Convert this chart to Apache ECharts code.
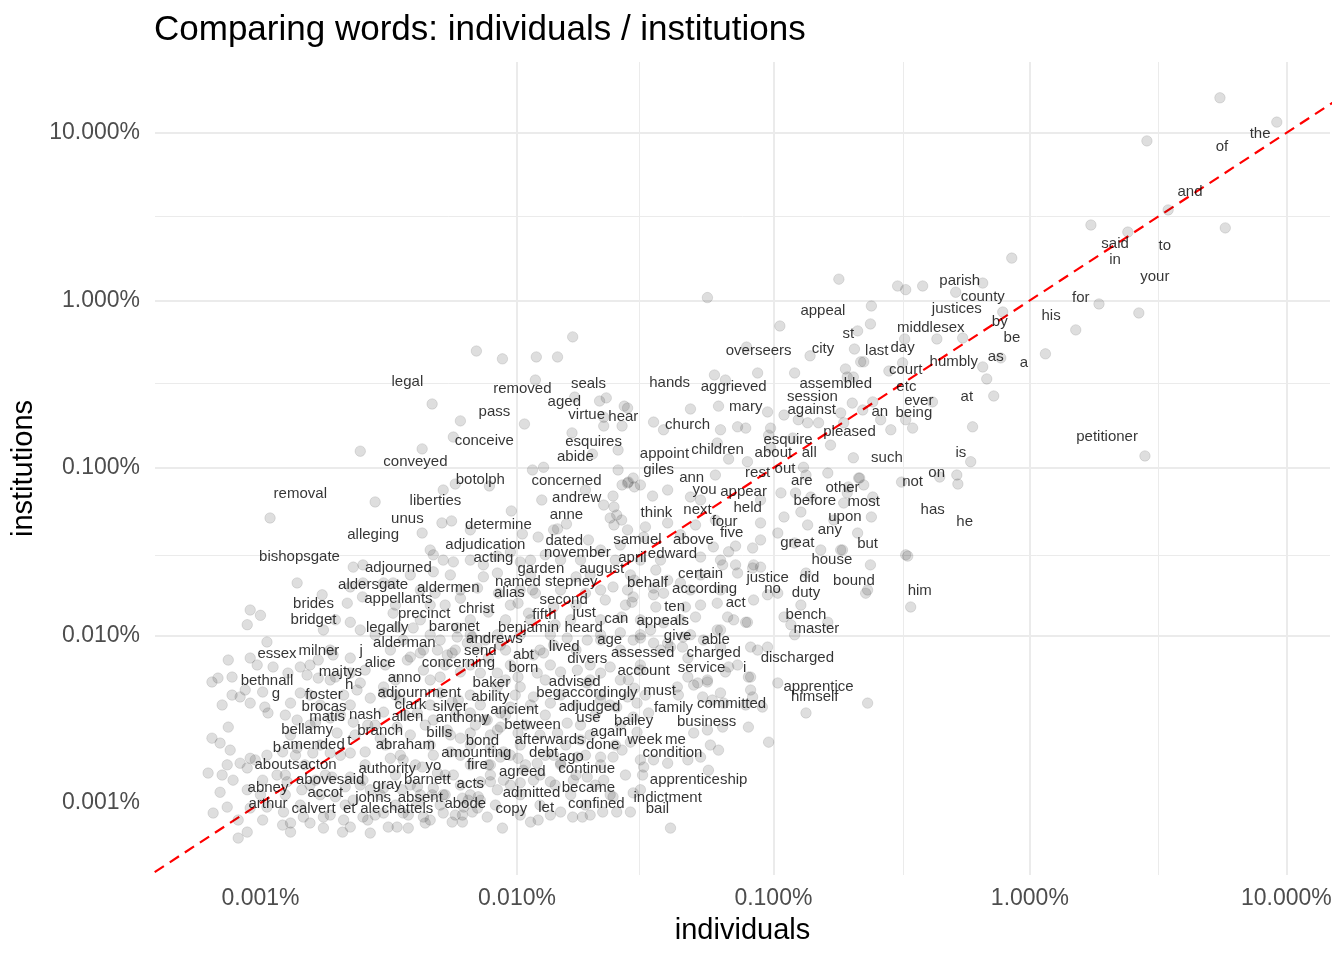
<!DOCTYPE html>
<html>
<head>
<meta charset="utf-8">
<script src="https://cdn.jsdelivr.net/npm/echarts@6/dist/echarts.min.js"></script>
<style>html,body{margin:0;padding:0;background:#fff}#c{width:1344px;height:960px}</style>
</head>
<body>
<div id="c"></div>
<script>
// Axis ranges (percent of words)
const xRange = [0.000388, 14.8];
const yRange = [0.000372, 26.5];
const majorBreaks = [0.001, 0.01, 0.1, 1, 10];
const minorBreaks = [0.000316, 0.00316, 0.0316, 0.316, 3.16, 31.6];
// reference line y = x
const identityLine = [[0.0001, 0.0001], [100, 100]];

// labelled words: [word, individuals %, institutions %]
const wordLabels = [
["the",7.90,11.6],["of",5.61,9.73],["and",4.21,5.24],["said",2.15,2.56],["to",3.36,2.49],["in",2.15,2.06],
["your",3.07,1.63],["for",1.58,1.22],["his",1.21,0.953],["a",0.947,0.500],["parish",0.533,1.54],["county",0.655,1.24],
["justices",0.519,1.05],["by",0.763,0.877],["middlesex",0.411,0.808],["be",0.851,0.704],["day",0.319,0.614],["last",0.253,0.589],
["as",0.736,0.542],["humbly",0.505,0.506],["court",0.328,0.454],["etc",0.330,0.359],["at",0.568,0.313],["ever",0.369,0.296],
["being",0.353,0.251],["an",0.260,0.255],["petitioner",2.00,0.181],["is",0.538,0.145],["on",0.433,0.110],["not",0.349,0.0973],
["has",0.418,0.0662],["he",0.557,0.0561],["him",0.372,0.0217],["appeal",0.156,1.02],["st",0.196,0.744],["city",0.156,0.605],
["overseers",0.0876,0.589],["assembled",0.175,0.374],["session",0.142,0.313],["against",0.141,0.262],["pleased",0.198,0.193],
["esquire",0.114,0.173],["about",0.100,0.145],["all",0.138,0.145],["such",0.277,0.135],["rest",0.0868,0.110],["out",0.111,0.116],
["are",0.129,0.0986],["other",0.186,0.0896],["before",0.145,0.0749],["most",0.225,0.0739],["upon",0.190,0.0601],["any",0.166,0.0503],
["great",0.124,0.0421],["but",0.233,0.0415],["house",0.169,0.0333],["justice",0.0950,0.0260],["did",0.138,0.0260],["bound",0.206,0.0249],
["no",0.0993,0.0224],["duty",0.134,0.0212],["bench",0.134,0.0156],["master",0.147,0.0129],["discharged",0.124,0.00865],
["apprentice",0.150,0.00581],["himself",0.145,0.00506],["hands",0.0394,0.379],["aggrieved",0.0700,0.359],["mary",0.0780,0.273],
["church",0.0463,0.213],["children",0.0606,0.151],["appoint",0.0376,0.143],["giles",0.0357,0.115],["ann",0.0480,0.103],
["you",0.0539,0.0871],["appear",0.0765,0.0848],["think",0.0350,0.0635],["next",0.0506,0.0662],["held",0.0794,0.0680],
["four",0.0645,0.0561],["five",0.0687,0.0483],["samuel",0.0295,0.0438],["above",0.0488,0.0438],["april",0.0282,0.0342],
["edward",0.0404,0.0361],["august",0.0214,0.0294],["certain",0.0520,0.0275],["behalf",0.0323,0.0243],["according",0.0539,0.0224],
["act",0.0713,0.0184],["ten",0.0412,0.0175],["appeals",0.0370,0.0144],["give",0.0423,0.0117],["able",0.0595,0.0111],
["charged",0.0585,0.00927],["service",0.0525,0.00755],["i",0.0773,0.00755],["assessed",0.0309,0.00927],["account",0.0312,0.00724],
["must",0.0360,0.00550],["family",0.0408,0.00435],["committed",0.0687,0.00460],["business",0.0549,0.00359],["week",0.0315,0.00280],
["me",0.0415,0.00280],["condition",0.0404,0.00235],["apprenticeship",0.0511,0.00162],["indictment",0.0387,0.00126],["bail",0.0353,0.00109],
["legal",0.00374,0.385],["removed",0.0105,0.349],["seals",0.0190,0.374],["aged",0.0153,0.292],["pass",0.00817,0.255],
["virtue",0.0187,0.244],["hear",0.0260,0.238],["conceive",0.00746,0.171],["esquires",0.0199,0.169],["abide",0.0169,0.137],
["conveyed",0.00402,0.128],["botolph",0.00720,0.100],["concerned",0.0156,0.0986],["removal",0.00143,0.0825],["liberties",0.00481,0.0749],
["andrew",0.0171,0.0781],["unus",0.00374,0.0585],["anne",0.0156,0.0618],["determine",0.00847,0.0539],["alleging",0.00275,0.0469],
["dated",0.0153,0.0432],["adjudication",0.00753,0.0409],["acting",0.00810,0.0342],["november",0.0172,0.0366],["bishopsgate",0.00142,0.0347],
["adjourned",0.00345,0.0298],["garden",0.0124,0.0294],["aldersgate",0.00275,0.0236],["aldermen",0.00540,0.0227],["named",0.0101,0.0246],
["stepney",0.0163,0.0246],["alias",0.00935,0.0212],["appellants",0.00345,0.0195],["second",0.0152,0.0192],["brides",0.00161,0.0182],
["christ",0.00695,0.0170],["precinct",0.00435,0.0158],["bridget",0.00161,0.0146],["fifth",0.0128,0.0156],["just",0.0183,0.0161],
["can",0.0244,0.0148],["legally",0.00312,0.0131],["baronet",0.00570,0.0133],["benjamin",0.0111,0.0131],["heard",0.0182,0.0131],
["andrews",0.00817,0.0112],["alderman",0.00364,0.0106],["age",0.0230,0.0111],["lived",0.0153,0.0101],["send",0.00720,0.00953],
["essex",0.00116,0.00915],["milner",0.00169,0.00953],["j",0.00247,0.00953],["abt",0.0106,0.00902],["divers",0.0188,0.00853],
["concerning",0.00591,0.00808],["alice",0.00293,0.00808],["born",0.0106,0.00755],["majtys",0.00205,0.00714],["bethnall",0.00106,0.00631],
["anno",0.00364,0.00658],["h",0.00222,0.00597],["baker",0.00795,0.00614],["advised",0.0168,0.00622],["g",0.00115,0.00528],
["foster",0.00177,0.00521],["adjournment",0.00416,0.00535],["ability",0.00788,0.00506],["beg",0.0133,0.00535],["accordingly",0.0210,0.00535],
["brocas",0.00177,0.00441],["clark",0.00384,0.00454],["silver",0.00550,0.00441],["ancient",0.00977,0.00424],["adjudged",0.0192,0.00441],
["matis",0.00182,0.00385],["nash",0.00256,0.00395],["allen",0.00374,0.00385],["anthony",0.00613,0.00379],["between",0.0115,0.00345],
["use",0.0190,0.00379],["bailey",0.0285,0.00364],["bellamy",0.00152,0.00322],["branch",0.00293,0.00317],["bills",0.00498,0.00309],
["again",0.0228,0.00313],["b",0.00116,0.00251],["amended",0.00161,0.00262],["t",0.00222,0.00277],["abraham",0.00367,0.00262],
["bond",0.00733,0.00277],["afterwards",0.0134,0.00280],["done",0.0216,0.00262],["amounting",0.00695,0.00235],["debt",0.0127,0.00235],
["ago",0.0163,0.00222],["abouts",0.00116,0.00199],["acton",0.00168,0.00199],["authority",0.00312,0.00188],["yo",0.00472,0.00196],
["fire",0.00701,0.00199],["agreed",0.0105,0.00181],["continue",0.0187,0.00188],["abovesaid",0.00187,0.00162],["gray",0.00312,0.00151],
["barnett",0.00447,0.00162],["acts",0.00658,0.00153],["abney",0.00107,0.00145],["accot",0.00179,0.00135],["johns",0.00275,0.00126],
["absent",0.00420,0.00126],["abode",0.00629,0.00116],["admitted",0.0114,0.00135],["became",0.0190,0.00145],["arthur",0.00107,0.00116],
["calvert",0.00161,0.00109],["et",0.00222,0.00109],["ale",0.00268,0.00109],["chattels",0.00374,0.00109],["copy",0.00951,0.00109],
["let",0.0130,0.00110],["confined",0.0204,0.00116]
];

// jittered word points [individuals %, institutions %]
const cloudPoints = [
[5.51,16.2],[9.18,11.6],[2.86,8.96],[3.46,3.47],[1.73,2.82],[2.41,2.56],[5.78,2.71],[1.86,0.953],[2.66,0.842],[1.51,0.667],[1.15,0.480],[2.81,0.118],[0.850,1.79],
[0.180,1.34],[0.305,1.22],[0.328,1.16],[0.382,1.22],[0.655,1.27],[0.514,1.12],[0.241,0.927],[0.106,0.704],[0.239,0.724],[0.213,0.658],[0.0553,1.04],[0.207,0.513],[0.139,0.467],[0.325,0.589],[0.434,0.589],[0.547,0.597],[0.784,0.853],[0.655,0.401],[0.770,0.454],[0.679,0.340],[0.723,0.269],[0.225,0.430],[0.219,0.430],[0.191,0.390],[0.205,0.349],[0.282,0.379],[0.319,0.424],[0.0589,0.359],[0.0650,0.335],[0.0868,0.369],[0.0786,0.527],[0.0611,0.234],[0.0949,0.216],[0.110,0.207],[0.125,0.194],[0.136,0.186],[0.150,0.186],[0.203,0.244],[0.244,0.248],[0.287,0.169],[0.349,0.173],[0.417,0.248],[0.598,0.176],[0.0622,0.169],[0.0725,0.176],[0.0780,0.173],[0.0975,0.173],[0.0958,0.157],[0.188,0.186],
[0.0165,0.606],[0.00695,0.499],[0.00878,0.448],[0.0119,0.460],[0.0144,0.460],[0.0118,0.335],[0.0168,0.265],[0.0210,0.251],[0.0270,0.228],[0.00467,0.241],[0.00602,0.191],[0.0107,0.183],[0.00565,0.153],[0.0164,0.162],[0.0218,0.178],[0.0257,0.178],[0.0248,0.128],[0.0197,0.121],[0.00245,0.126],[0.00427,0.130],[0.0115,0.0973],[0.0127,0.101],[0.00516,0.0739],[0.00575,0.0802],[0.00781,0.0781],[0.00280,0.0627],[0.00109,0.0503],[0.00510,0.0470],[0.00556,0.0483],[0.00427,0.0409],[0.00658,0.0427],[0.00951,0.0554],[0.0125,0.0644],[0.0139,0.0427],[0.0144,0.0433],[0.0156,0.0463],[0.0185,0.0739],[0.0237,0.0680],[0.0257,0.0792],[0.0272,0.0824],[0.0287,0.0771],[0.0218,0.0601],[0.0239,0.0585],[0.0231,0.0503],[0.0245,0.0524],[0.0190,0.0372],[0.0270,0.0427],[0.0105,0.0404],[0.0121,0.0387],
[0.121,0.369],[0.194,0.349],[0.0223,0.262],[0.0218,0.201],[0.0262,0.234],[0.0475,0.225],[0.0341,0.188],[0.0373,0.169],[0.183,0.213],[0.223,0.222],[0.0604,0.141],[0.0669,0.113],[0.0792,0.109],[0.0975,0.132],[0.119,0.151],[0.167,0.137],[0.205,0.115],
[0.0248,0.0973],[0.0270,0.0813],[0.0303,0.0792],[0.0284,0.0871],[0.0338,0.0680],[0.0594,0.0908],[0.131,0.101],[0.134,0.0908],[0.163,0.0933],[0.215,0.0871],[0.225,0.0792],[0.0387,0.0739],[0.0475,0.0671],[0.0520,0.0644],[0.0891,0.0644],[0.107,0.0710],[0.122,0.0710],[0.140,0.0671],[0.194,0.0710],
[0.0256,0.0489],[0.0239,0.0457],[0.0317,0.0445],[0.0387,0.0470],[0.0497,0.0457],[0.0594,0.0489],[0.0891,0.0470],[0.110,0.0510],[0.128,0.0546],[0.136,0.0457],[0.172,0.0489],[0.241,0.0510],[0.0312,0.0387],[0.0434,0.0399],[0.0891,0.0372],[0.104,0.0409],
[0.0583,0.0338],[0.0712,0.0342],[0.0830,0.0333],[0.0520,0.0294],[0.0634,0.0264],[0.0712,0.0264],[0.0830,0.0253],[0.0891,0.0256],[0.121,0.0357],[0.153,0.0324],[0.183,0.0324],[0.239,0.0264],[0.328,0.0303],[0.134,0.0236],[0.233,0.0187],[0.229,0.0179],[0.343,0.0148],[0.0837,0.0163],[0.0949,0.0175],[0.104,0.0179],[0.128,0.0152],[0.163,0.0120],[0.110,0.0129],[0.117,0.0116],[0.121,0.0101],[0.0700,0.0124],[0.0780,0.0120],[0.0622,0.0108],[0.0497,0.0129],[0.0454,0.0148],[0.0341,0.0192],[0.0373,0.0179],[0.0287,0.0214],[0.0270,0.0187],[0.0281,0.0158],[0.0348,0.0148],[0.0256,0.0129],[0.0332,0.0108],[0.0373,0.0119],[0.0534,0.00940],[0.0622,0.00853],[0.0815,0.00853],[0.0868,0.00819],[0.0949,0.00853],[0.0442,0.00853],[0.0387,0.00902],[0.0303,0.00966],[0.0464,0.00734],[0.0669,0.00649],[0.0799,0.00565],[0.104,0.00521],[0.0553,0.00528],[0.0507,0.00521],[0.0422,0.00493],[0.0426,0.00441],[0.0530,0.00430],[0.0622,0.00454],[0.0830,0.00430],[0.0906,0.00374],[0.134,0.00345],[0.233,0.00395],[0.0303,0.00622],[0.0272,0.00543],[0.0287,0.00485],
[0.262,0.194],[0.328,0.194],[0.588,0.109],[0.217,0.0871],[0.316,0.0824],[0.445,0.0883],[0.519,0.0908],[0.524,0.0802],[0.196,0.0771],[0.244,0.0671],[0.188,0.0618],[0.213,0.0409],[0.186,0.0324],[0.334,0.0298],
[0.00139,0.0206],[0.00174,0.0175],[0.00218,0.0156],[0.000912,0.0142],[0.00100,0.0132],[0.000888,0.0116],[0.00250,0.0170],[0.00245,0.0108],[0.00224,0.0120],[0.00176,0.0108],[0.00196,0.0124],[0.00106,0.00915],[0.000912,0.00734],[0.000749,0.00714],[0.000647,0.00528],[0.000683,0.00557],[0.000775,0.00565],[0.000971,0.00667],[0.00112,0.00649],[0.00128,0.00597],[0.00143,0.00649],[0.00168,0.00714],[0.00192,0.00765],[0.00224,0.00734],[0.00152,0.00581],[0.00168,0.00557],[0.00196,0.00565],[0.00224,0.00597],[0.00256,0.00622],[0.00302,0.00493],[0.00245,0.00521],[0.00472,0.0303],[0.00516,0.0282],[0.00565,0.0275],[0.00839,0.0236],[0.00702,0.0192],[0.00740,0.0224],[0.00847,0.0179],[0.00774,0.0138],[0.00585,0.0111],[0.00394,0.0111],[0.00360,0.00940],[0.00432,0.00819],[0.00384,0.00744],[0.00641,0.00902],[0.00502,0.00940],[0.00753,0.00940],[0.00839,0.0101],[0.00559,0.00787],[0.00302,0.0206],[0.00329,0.0206],[0.00251,0.0206],[0.00224,0.0195],[0.00230,0.0256],[0.00251,0.0264],[0.00472,0.0240],[0.00480,0.0179],[0.00329,0.0136],[0.00344,0.0112],[0.00459,0.0324],[0.00839,0.0298],
[0.000775,0.00441],[0.000833,0.00430],[0.000912,0.00395],[0.00104,0.00374],[0.00107,0.00345],[0.000749,0.00284],[0.000647,0.00244],[0.000696,0.00228],[0.000762,0.00207],[0.000625,0.00151],[0.000709,0.00147],[0.000782,0.00137],[0.000696,0.00116],[0.000742,0.000946],[0.000654,0.000872],[0.000819,0.000792],[0.000819,0.000618],[0.000888,0.000671],[0.00102,0.000792],[0.00122,0.000739],[0.00131,0.000760],[0.00131,0.000671],[0.00156,0.000760],[0.00176,0.000709],[0.00209,0.000671],[0.00224,0.000719],[0.00268,0.000662],[0.00262,0.000792],[0.00315,0.000719],[0.00341,0.000719],[0.00377,0.000709],[0.00439,0.000760],[0.00613,0.000770],[0.00766,0.000825],[0.00878,0.000709],[0.000833,0.00173],[0.000888,0.00162],[0.000954,0.00181],[0.000742,0.00169],
[0.00459,0.000792],[0.00559,0.000770],[0.00613,0.000848],[0.00670,0.000884],[0.0113,0.000770],[0.0121,0.000792],[0.0135,0.000848],[0.0148,0.000884],[0.0165,0.000825],[0.0180,0.000825],[0.0216,0.000884],[0.0245,0.000884],[0.0277,0.000884],[0.0397,0.000709],[0.0237,0.00109],[0.0284,0.00115],[0.0303,0.00120],[0.0309,0.00147],[0.0312,0.00164],[0.0303,0.00181],[0.0341,0.00181],[0.0387,0.00173],[0.0464,0.00181],[0.0558,0.00157],[0.0520,0.00188],[0.0611,0.00207],[0.0568,0.00222],[0.0489,0.00262],[0.0553,0.00273],[0.0634,0.00284],[0.0799,0.00284],[0.0294,0.00265],[0.0277,0.00231],[0.0257,0.00207],[0.0212,0.00188],[0.0237,0.00188],[0.0284,0.00326],[0.0326,0.00345],[0.0317,0.00441],[0.0294,0.00395],[0.0489,0.00506],[0.0578,0.00412],[0.0640,0.00395],[0.0815,0.00473],[0.0780,0.00385],[0.0106,0.00157],[0.0120,0.00173],[0.0139,0.00193],[0.0135,0.00134],[0.0116,0.00137],[0.0103,0.00132],[0.00886,0.00137],[0.00788,0.00134],[0.00707,0.00109],[0.00613,0.00107],[0.00516,0.00112],[0.00467,0.00112],[0.0166,0.00137],[0.0188,0.00143],[0.0218,0.00137],[0.00377,0.000848],[0.00413,0.00100],[0.00702,0.000934],[0.00646,0.00104],[0.00774,0.00169],[0.00862,0.00188],[0.0101,0.00185],[0.00788,0.00213],[0.00658,0.00262],[0.0101,0.00262],[0.00862,0.00284],[0.00753,0.00313],[0.00591,0.00412],[0.00839,0.00493],[0.00943,0.00374],[0.0116,0.00430],[0.0103,0.00493],[0.0135,0.00395],[0.0157,0.00300],[0.0144,0.00262],[0.0177,0.00238],[0.0172,0.00188],[0.0148,0.00173],[0.0212,0.00412],[0.0245,0.00374],[0.0188,0.00521],[0.0270,0.00430],
[0.00740,0.0264],[0.0115,0.0187],[0.0118,0.0179],[0.0101,0.0156],[0.0111,0.0136],[0.0139,0.0148],[0.0185,0.0179],[0.0221,0.0163],[0.0237,0.0195],[0.0284,0.0170],[0.0341,0.0175],[0.0387,0.0214],[0.0434,0.0206],[0.0669,0.0316],[0.0725,0.0236],[0.0837,0.0264],[0.0604,0.0156],[0.0663,0.0129],[0.0792,0.0120],[0.0604,0.0108],[0.0445,0.00980],[0.0397,0.00853],[0.0341,0.00902],[0.0284,0.00940],[0.0253,0.0104],[0.0212,0.00940],[0.0188,0.00940],[0.0157,0.00966],[0.0139,0.00877],[0.0127,0.00787],[0.0116,0.00765],[0.00862,0.00877],[0.00774,0.00734],[0.00702,0.00842],[0.00670,0.00980],[0.00585,0.00980],[0.00535,0.00765],[0.00490,0.00819],[0.00420,0.00787],[0.00374,0.00714],[0.00432,0.00622],[0.00502,0.00565],[0.00602,0.00606],[0.00720,0.00597],[0.00839,0.00597],[0.0101,0.00565],[0.0120,0.00597],[0.0148,0.00606],[0.0172,0.00622],[0.0212,0.00597],[0.0231,0.00649],[0.0464,0.00565],[0.0553,0.00543],[0.0650,0.00606],[0.0725,0.00667],[0.0815,0.00565],
[0.00102,0.00460],[0.00143,0.00454],[0.00131,0.00395],[0.00139,0.00313],[0.00164,0.00304],[0.00187,0.00322],[0.00199,0.00262],[0.00230,0.00304],[0.00262,0.00292],[0.00302,0.00349],[0.00341,0.00284],[0.00293,0.00244],[0.00256,0.00202],[0.00224,0.00199],[0.00187,0.00199],[0.00160,0.00199],[0.00139,0.00213],[0.00122,0.00202],[0.00106,0.00193],[0.000912,0.00185],[0.00102,0.00137],[0.00116,0.00147],[0.00127,0.00134],[0.00145,0.00120],[0.00164,0.00137],[0.00190,0.00143],[0.00224,0.00143],[0.00251,0.00137],[0.00214,0.00125],[0.00196,0.00109],[0.00230,0.00104],[0.00268,0.00120],[0.00302,0.00123],[0.00357,0.00120],[0.00409,0.00125],[0.00472,0.00123],[0.00525,0.00112],[0.00565,0.00147],[0.00490,0.00151],[0.00427,0.00164],[0.00360,0.00181],[0.00321,0.00185],[0.00472,0.00193],[0.00550,0.00202],[0.00602,0.00244],[0.00535,0.00273],[0.00472,0.00313],[0.00409,0.00345],[0.00351,0.00412],[0.00302,0.00454],[0.00268,0.00423],[0.00238,0.00473],[0.00211,0.00441],[0.00502,0.00454],[0.00559,0.00400],[0.00658,0.00345],[0.00766,0.00313],[0.00839,0.00273],[0.00862,0.00345],[0.00886,0.00202],[0.00788,0.00169],[0.00720,0.00134],[0.00839,0.00120],[0.00720,0.00104],[0.00620,0.000946],[0.00516,0.000872],[0.00432,0.000825],[0.00360,0.000872],[0.00302,0.000872],[0.00251,0.000825],[0.00211,0.000792],[0.00176,0.000825],[0.00147,0.000825],[0.00123,0.000884],[0.00106,0.000946],[0.000912,0.000934],[0.00100,0.00112],[0.000888,0.00120],
[0.00943,0.0315],[0.0103,0.0275],[0.0129,0.0303],[0.0148,0.0282],[0.0170,0.0224],[0.0212,0.0324],[0.0253,0.0347],[0.0303,0.0282],[0.0348,0.0246],[0.00602,0.0167],[0.00459,0.0152],[0.00903,0.0124],[0.0141,0.0116],[0.0212,0.0124],
[0.0958,0.00231],[0.000709,0.00385],[0.000872,0.00473],
[0.00156,0.00441],[0.00336,0.00441],[0.00658,0.00441],[0.00985,0.00441],[0.0148,0.00441],[0.0212,0.00441],
[0.00171,0.00385],[0.00224,0.00385],[0.00459,0.00385],[0.00720,0.00385],[0.0113,0.00385],[0.0170,0.00385],[0.0231,0.00385],
[0.00125,0.00335],[0.00205,0.00335],[0.00367,0.00335],[0.00575,0.00335],[0.00903,0.00335],[0.0129,0.00335],[0.0202,0.00335],
[0.00156,0.00292],[0.00280,0.00292],[0.00439,0.00292],[0.00689,0.00292],[0.0108,0.00292],[0.0177,0.00292],[0.0253,0.00292],
[0.00131,0.00255],[0.00234,0.00255],[0.00384,0.00255],[0.00550,0.00255],[0.00788,0.00255],[0.0123,0.00255],[0.0193,0.00255],
[0.00171,0.00222],[0.00307,0.00222],[0.00459,0.00222],[0.00658,0.00222],[0.0103,0.00222],[0.0155,0.00222],[0.0242,0.00222],
[0.00137,0.00193],[0.00205,0.00193],[0.00351,0.00193],[0.00602,0.00193],[0.00943,0.00193],[0.0129,0.00193],[0.0185,0.00193],
[0.00149,0.00169],[0.00256,0.00169],[0.00402,0.00169],[0.00658,0.00169],[0.0108,0.00169],[0.0148,0.00169],[0.0212,0.00169],
[0.00125,0.00147],[0.00179,0.00147],[0.00336,0.00147],[0.00525,0.00147],[0.00788,0.00147],[0.0123,0.00147],[0.0170,0.00147],[0.0265,0.00147],
[0.00156,0.00128],[0.00245,0.00128],[0.00384,0.00128],[0.00602,0.00128],[0.00943,0.00128],[0.0141,0.00128],[0.0202,0.00128],
[0.00125,0.00112],[0.00171,0.00112],[0.00293,0.00112],[0.00420,0.00112],[0.00658,0.00112],[0.0103,0.00112],[0.0162,0.00112],[0.0231,0.00112],
[0.00143,0.000973],[0.00214,0.000973],[0.00336,0.000973],[0.00502,0.000973],[0.00825,0.000973],[0.0123,0.000973],[0.0185,0.000973],
[0.00187,0.000848],[0.00280,0.000848],[0.00575,0.000848],[0.0103,0.000848],[0.0193,0.000848],
[0.00187,0.00543],[0.00336,0.00543],[0.00459,0.00543],[0.00903,0.00543],[0.0129,0.00543],[0.0193,0.00543],[0.0253,0.00543],
[0.00156,0.00667],[0.00307,0.00667],[0.00525,0.00667],[0.00658,0.00667],[0.00943,0.00667],[0.0135,0.00667],[0.0193,0.00667],[0.0303,0.00667],
[0.00187,0.00819],[0.00321,0.00819],[0.00575,0.00819],[0.00903,0.00819],[0.0123,0.00819],[0.0170,0.00819],[0.0253,0.00819],[0.0363,0.00819],
[0.00280,0.0101],[0.00459,0.0101],[0.00658,0.0101],[0.0103,0.0101],[0.0135,0.0101],[0.0212,0.0101],[0.0303,0.0101],[0.0475,0.0101],
[0.00420,0.0124],[0.00658,0.0124],[0.0113,0.0124],[0.0162,0.0124],[0.0303,0.0124],[0.0434,0.0124],
[0.00336,0.0152],[0.00525,0.0152],[0.00943,0.0152],[0.0170,0.0152],[0.0265,0.0152],[0.0520,0.0152],
[0.00420,0.0187],[0.00602,0.0187],[0.0103,0.0187],[0.0148,0.0187],[0.0212,0.0187],[0.0475,0.0187],[0.0622,0.0187],
[0.00384,0.0230],[0.00550,0.0230],[0.0113,0.0230],[0.0193,0.0230],[0.0277,0.0230],[0.0520,0.0230],
[0.00658,0.0282],[0.0113,0.0282],[0.0177,0.0282],[0.0242,0.0282],[0.0363,0.0282],[0.0622,0.0282]
];

const FONT = "'Liberation Sans', Arial, Helvetica, sans-serif";
const inRange = (v, r) => v >= r[0] && v <= r[1];
function pctLabel(v) {
  const e = Math.log10(v);
  if (Math.abs(e - Math.round(e)) > 1e-6) return '';
  return Math.pow(10, Math.round(e)).toFixed(3) + '%';
}
const gridLines = [].concat(
  minorBreaks.filter(v => inRange(v, xRange)).map(v => ({xAxis: v, lineStyle: {color: '#ebebeb', width: 1, type: 'solid'}})),
  minorBreaks.filter(v => inRange(v, yRange)).map(v => ({yAxis: v, lineStyle: {color: '#ebebeb', width: 1, type: 'solid'}})),
  majorBreaks.filter(v => inRange(v, xRange)).map(v => ({xAxis: v, lineStyle: {color: '#ebebeb', width: 2, type: 'solid'}})),
  majorBreaks.filter(v => inRange(v, yRange)).map(v => ({yAxis: v, lineStyle: {color: '#ebebeb', width: 2, type: 'solid'}}))
);

const chart = echarts.init(document.getElementById('c'), null, {renderer: 'canvas'});
chart.setOption({
  animation: false,
  backgroundColor: '#ffffff',
  title: {
    text: 'Comparing words: individuals / institutions',
    left: 154, top: 13, padding: 0,
    textStyle: {fontFamily: FONT, fontSize: 35, fontWeight: 'normal', color: '#000'}
  },
  grid: {left: 155, right: 14, top: 62, bottom: 85, containLabel: false},
  xAxis: {
    type: 'log', logBase: 10, min: xRange[0], max: xRange[1],
    name: 'individuals', nameLocation: 'middle', nameGap: 41,
    nameTextStyle: {fontFamily: FONT, fontSize: 29, color: '#000'},
    axisLine: {show: false}, axisTick: {show: false}, splitLine: {show: false},
    axisLabel: {formatter: pctLabel, fontFamily: FONT, fontSize: 23, color: '#4d4d4d', margin: 12}
  },
  yAxis: {
    type: 'log', logBase: 10, min: yRange[0], max: yRange[1],
    name: 'institutions', nameLocation: 'middle', nameGap: 108, nameRotate: 90,
    nameTextStyle: {fontFamily: FONT, fontSize: 29, color: '#000'},
    axisLine: {show: false}, axisTick: {show: false}, splitLine: {show: false},
    axisLabel: {formatter: pctLabel, fontFamily: FONT, fontSize: 23, color: '#4d4d4d', margin: 15}
  },
  series: [
    {
      type: 'line', data: [], silent: true, z: 1,
      markLine: {silent: true, z: 1, symbol: ['none', 'none'], label: {show: false}, animation: false, data: gridLines}
    },
    {
      type: 'line', data: identityLine, symbol: 'none', showSymbol: false, silent: true, clip: true, z: 2,
      lineStyle: {color: '#ff0000', width: 2.2, type: [11, 7]}
    },
    {
      type: 'scatter', data: cloudPoints, symbol: 'circle', symbolSize: 10.5, silent: true, z: 3,
      itemStyle: {color: 'rgba(0,0,0,0.16)', borderColor: 'rgba(0,0,0,0.13)', borderWidth: 1}
    },
    {
      type: 'scatter', silent: true, z: 6, symbol: 'circle', symbolSize: 1,
      data: wordLabels.map(w => ({name: w[0], value: [w[1], w[2]]})),
      itemStyle: {color: 'rgba(0,0,0,0)'},
      label: {show: true, position: 'inside', offset: [0, 12], formatter: '{b}',
              fontFamily: FONT, fontSize: 15, color: '#000000'}
    }
  ]
});
</script>
</body>
</html>
